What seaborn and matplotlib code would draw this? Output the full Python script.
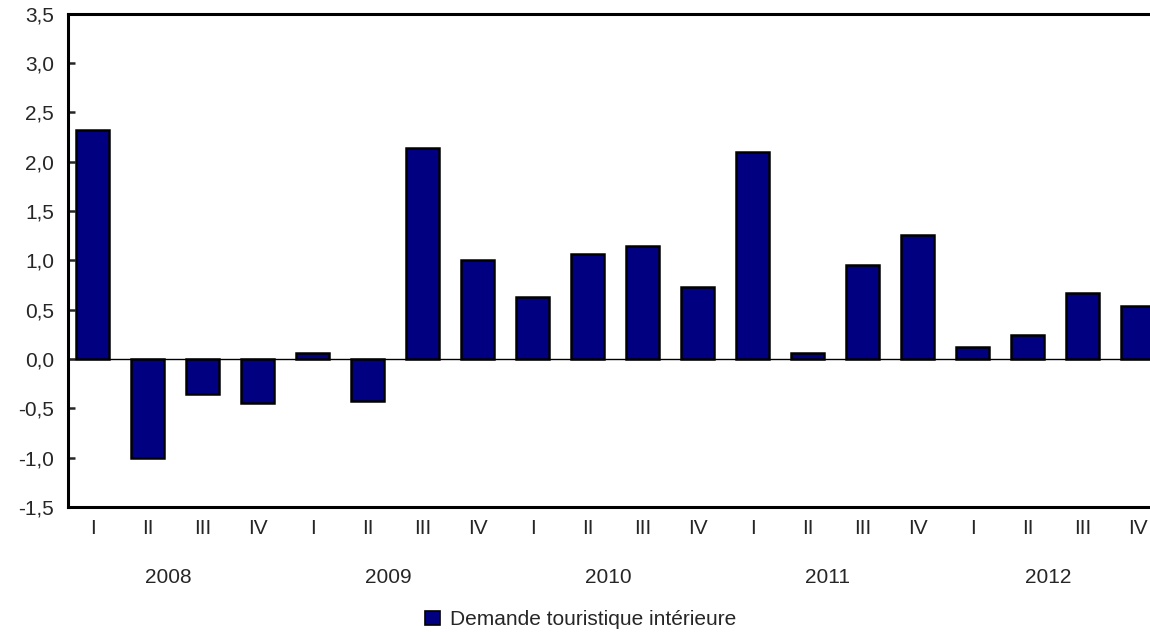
import numpy as np
import pandas as pd
import seaborn as sns
import matplotlib.pyplot as plt
import matplotlib.transforms as mtransforms
from matplotlib.patches import Patch

# data
annees = ['2008', '2009', '2010', '2011', '2012']
trimestres = ['I', 'II', 'III', 'IV']
valeurs = [2.32, -1.00, -0.36, -0.45,
           0.06, -0.43, 2.14, 1.00,
           0.63, 1.06, 1.15, 0.73,
           2.10, 0.06, 0.95, 1.26,
           0.12, 0.24, 0.67, 0.54]
serie = 'Demande touristique intérieure'

periodes = [f'{a}-{t}' for a in annees for t in trimestres]
df = pd.DataFrame({'periode': periodes, 'valeur': valeurs})

sns.set_style('white')
plt.rcParams['font.family'] = ['Liberation Sans', 'DejaVu Sans']
plt.rcParams['font.size'] = 15

fig = plt.figure(figsize=(11.5, 6.32), dpi=100)
ax = fig.add_axes([0.0591, 0.198, 0.954, 0.780])

sns.barplot(data=df, x='periode', y='valeur', order=periodes, color='#000080',
            edgecolor='black', linewidth=1.8, width=0.6, saturation=1, ax=ax)

ax.set_xlim(-0.45, 19.5)
ax.set_ylim(-1.5, 3.5)
ax.set_yticks(np.arange(-1.5, 3.51, 0.5))
ax.set_yticklabels([f'{v:.1f}'.replace('.', ',') for v in np.arange(-1.5, 3.51, 0.5)])
ax.set_xticks(range(len(periodes)))
ax.set_xticklabels([t for a in annees for t in trimestres])
ax.tick_params(axis='x', length=0, pad=9, labelsize=15)
ax.tick_params(axis='y', direction='in', length=5, width=1.8, pad=10, labelsize=15,
               left=True)
ax.set_xlabel('')
ax.set_ylabel('')

ax.axhline(0, color='black', linewidth=1.0, zorder=0.5)

for side in ['left', 'top', 'bottom']:
    ax.spines[side].set_linewidth(2.2)
    ax.spines[side].set_color('black')
ax.spines['right'].set_visible(False)

trans = mtransforms.blended_transform_factory(ax.transData, ax.transAxes)
for i, a in enumerate(annees):
    ax.text(4 * i + 1.5 - 0.13, -0.144, a, transform=trans, ha='center', va='center',
            fontsize=15)

handle = Patch(facecolor='#000080', edgecolor='black', linewidth=1.2)
fig.legend([handle], [serie], loc='center', bbox_to_anchor=(0.505, 0.019),
           frameon=False, fontsize=15, handlelength=0.7, handleheight=0.7,
           handletextpad=0.5)

fig.savefig('out.png', dpi=100)
